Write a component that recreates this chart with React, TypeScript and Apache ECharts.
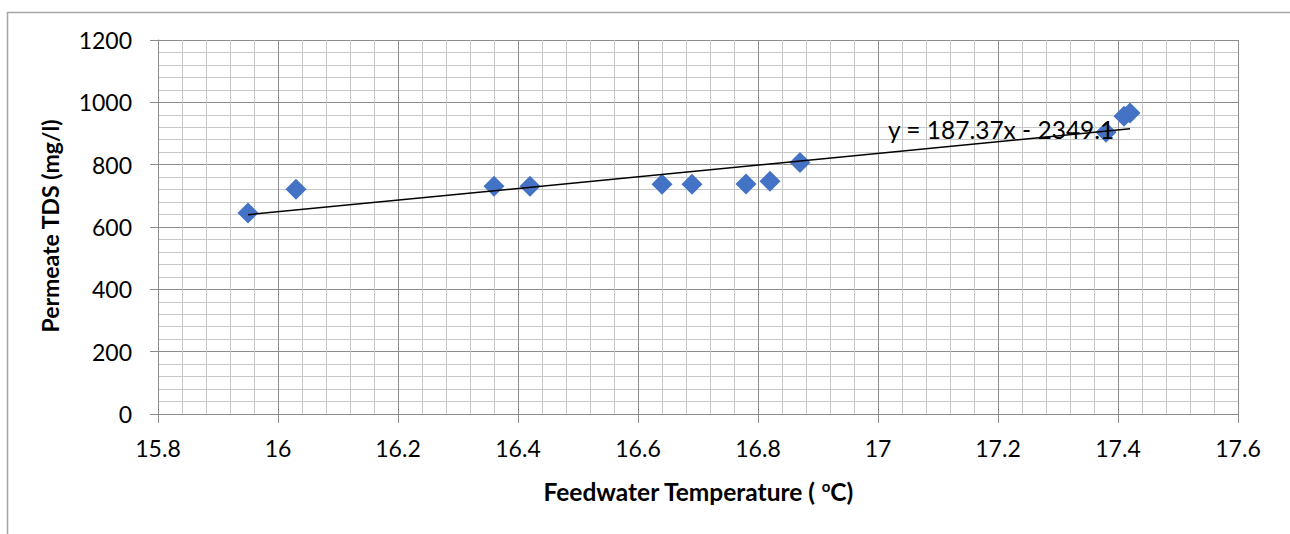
import React, { useEffect, useRef } from "react";
import * as echarts from "echarts";

const temperatures = [15.95, 16.03, 16.36, 16.42, 16.64, 16.69, 16.78, 16.82, 16.87, 17.38, 17.41, 17.42];
const permeateTDS = [645, 721, 731, 731, 737, 737, 738, 747, 807, 904, 955, 966];
const trendSlope = 187.37;
const trendIntercept = -2349.1;
const trendRange = [15.95, 17.42];
const trendLabel = "y = 187.37x - 2349.1";
const xTitle = "Feedwater Temperature ( ";
const yTitle = "Permeate TDS (mg/l)";

const FONT = "Lato, 'Noto Sans', sans-serif";

export default function App() {
  const ref = useRef<HTMLDivElement>(null);
  useEffect(() => {
    document.body.style.margin = "0";
    const chart = echarts.init(ref.current!, null, { renderer: "svg" });
    const points = temperatures.map((t, i) => [t, permeateTDS[i]]);
    const trend = trendRange.map((x) => [x, trendSlope * x + trendIntercept]);
    const gridLineMajor = { show: true, lineStyle: { color: "#8c8c8c", width: 1 } };
    const gridLineMinor = { show: true, lineStyle: { color: "#c8c8c8", width: 1 } };
    chart.setOption({
      animation: false,
      backgroundColor: "#ffffff",
      grid: { left: 158, right: 52, top: 40, bottom: 120, containLabel: false },
      xAxis: {
        type: "value",
        min: 15.8,
        max: 17.6,
        interval: 0.2,
        axisLine: { show: true, onZero: false, lineStyle: { color: "#8c8c8c" } },
        axisTick: { show: true, length: 9, lineStyle: { color: "#8c8c8c" } },
        axisLabel: {
          color: "#000",
          fontSize: 23,
          fontFamily: FONT,
          margin: 22,
          formatter: (v: number) => String(parseFloat(v.toFixed(1))),
        },
        splitLine: gridLineMajor,
        minorTick: { show: false, splitNumber: 5 },
        minorSplitLine: gridLineMinor,
      },
      yAxis: {
        type: "value",
        min: 0,
        max: 1200,
        interval: 200,
        axisLine: { show: true, lineStyle: { color: "#8c8c8c" } },
        axisTick: { show: true, length: 8, lineStyle: { color: "#8c8c8c" } },
        axisLabel: {
          color: "#000",
          fontSize: 23,
          fontFamily: FONT,
          margin: 26,
          formatter: (v: number) => String(v),
        },
        splitLine: gridLineMajor,
        minorTick: { show: false, splitNumber: 5 },
        minorSplitLine: gridLineMinor,
      },
      series: [
        {
          type: "scatter",
          data: points,
          symbol: "diamond",
          symbolSize: 21,
          itemStyle: { color: "#4472C4", opacity: 1 },
          z: 3,
        },
        {
          type: "line",
          data: trend,
          symbol: "none",
          lineStyle: { color: "#000", width: 1.5 },
          z: 4,
        },
      ],
      graphic: [
        {
          type: "rect",
          left: 5,
          top: 10,
          shape: { width: 1400, height: 700 },
          style: { fill: "none", stroke: "#a6a6a6", lineWidth: 1.5 },
          silent: true,
          z: -1,
        },
        {
          type: "text",
          left: 888,
          top: 117,
          style: { text: trendLabel, fontSize: 24.5, fontFamily: FONT, fill: "#000" },
          z: 10,
        },
        {
          type: "text",
          x: 50,
          y: 226,
          rotation: Math.PI / 2,
          style: {
            text: yTitle,
            fontSize: 23,
            fontWeight: "bold",
            fontFamily: FONT,
            fill: "#000",
            align: "center",
            verticalAlign: "middle",
          },
        },
        {
          type: "text",
          x: 698,
          y: 491,
          style: {
            text: "{a|" + xTitle + "}{s|o}{a|C)}",
            align: "center",
            verticalAlign: "middle",
            rich: {
              a: { fontSize: 24.5, fontWeight: "bold", fontFamily: FONT, fill: "#000" },
              s: { fontSize: 15, fontWeight: "bold", fontFamily: FONT, fill: "#000", verticalAlign: "top", padding: [0, 0, 10, 0] },
            },
          },
        },
      ],
    });
    return () => chart.dispose();
  }, []);
  return <div ref={ref} style={{ width: 1290, height: 534 }} />;
}
